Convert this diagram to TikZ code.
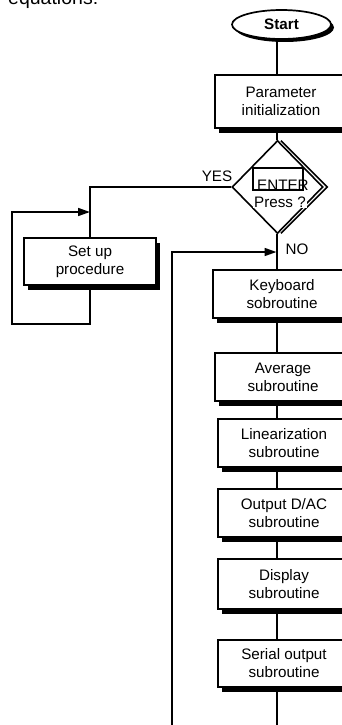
\documentclass[tikz,border=0pt]{standalone}
\usepackage{fontspec}
\setmainfont{Liberation Sans}
\usetikzlibrary{shapes.geometric,shadows,arrows.meta,calc}
\begin{document}
\begin{tikzpicture}[x=1pt,y=-1pt,
  every node/.style={font=\fontsize{15.2}{18}\selectfont},
  conn/.style={line width=1.6pt},
  arr/.style={line width=1.6pt,-{Triangle[length=12pt,width=8pt]}},
  boxshadow/.style={drop shadow={shadow xshift=4pt,shadow yshift=-5pt,fill=black,opacity=1}},
  procbox/.style={draw,line width=1.7pt,fill=white,align=center,inner sep=0pt,boxshadow},
  termnode/.style={ellipse,draw,line width=1.7pt,fill=white,inner sep=0pt,
     minimum width=99pt,minimum height=29pt,font=\fontsize{15.2}{18}\selectfont\bfseries,
     drop shadow={shadow xshift=3pt,shadow yshift=-3pt,fill=black,opacity=1}},
  decnode/.style={diamond,draw,line width=1.6pt,fill=white,inner sep=0pt,
     minimum width=91pt,minimum height=93pt},
  lbl/.style={inner sep=0pt}
]
\useasboundingbox (0,0) rectangle (341,725);

% fragment of page text at the top
\node[anchor=base west,inner sep=0pt,font=\fontsize{19.5}{22}\selectfont] (frag) at (8,5) {equations:};

\coordinate (ax) at (277,0);

\node[termnode] (start) at (281.5,24.5) {Start};
\node[procbox,minimum width=132pt,minimum height=53pt] (param) at (281,101.5) {Parameter\\initialization};

\node[decnode] (dec) at (277.5,187) {};
% double-line shadow on the right side of the decision
\draw[conn] ($(dec.north)+(3.5,1)$) -- ($(dec.east)+(3.5,0)$) -- ($(dec.south)+(3.5,-1)$);
\node[draw,line width=1.6pt,fill=white,minimum width=50pt,minimum height=22pt,inner sep=0pt] (enterbox) at (278,179) {};
\node[lbl,anchor=base west] (enter) at (257,190) {ENTER};
\node[lbl,anchor=base,fill=white,inner sep=1pt] (press) at (280,207) {Press ?};

\node[lbl] (yes) at (217,176) {YES};
\node[lbl] (no) at (297,249) {NO};

\node[procbox,minimum width=132pt,minimum height=47pt] (setup) at (90,261.5) {Set up\\procedure};

\node[procbox,minimum width=138pt,minimum height=48pt] (keyb) at (282,294) {Keyboard\\sobroutine};
\node[procbox,minimum width=136pt,minimum height=48pt] (avg) at (283,377) {Average\\subroutine};
\node[procbox,minimum width=132pt,minimum height=48pt] (lin) at (284,443) {Linearization\\subroutine};
\node[procbox,minimum width=132pt,minimum height=48pt] (dac) at (284,513) {Output D/AC\\subroutine};
\node[procbox,minimum width=132pt,minimum height=50pt] (disp) at (284,584) {Display\\subroutine};
\node[procbox,minimum width=132pt,minimum height=47pt] (ser) at (284,663.5) {Serial output\\subroutine};

% main spine
\draw[conn] (start.south -| ax) -- (param.north -| ax);
\draw[conn] (param.south -| ax) -- (dec.north -| ax);
\draw[conn] (dec.south -| ax) -- (keyb.north -| ax);
\draw[conn] (keyb.south -| ax) -- (avg.north -| ax);
\draw[conn] (avg.south -| ax) -- (lin.north -| ax);
\draw[conn] (lin.south -| ax) -- (dac.north -| ax);
\draw[conn] (dac.south -| ax) -- (disp.north -| ax);
\draw[conn] (disp.south -| ax) -- (ser.north -| ax);
\coordinate (spineend) at (277,726);
\draw[conn] (ser.south -| ax) -- (spineend);

% YES branch
\draw[conn] (dec.west) -| (setup.north);
\coordinate (lb) at (90,324);
\coordinate (ll) at (12,324);
\coordinate (lt) at (12,212);
\coordinate (lm) at (90,212);
\draw[arr] (setup.south) -- (lb) -- (ll) -- (lt) -- (lm);

% return line
\coordinate (rb) at (172,726);
\coordinate (rt) at (172,252);
\coordinate (rend) at (276.5,252);
\draw[arr] (rb) -- (rt) -- (rend);
\end{tikzpicture}
\end{document}
